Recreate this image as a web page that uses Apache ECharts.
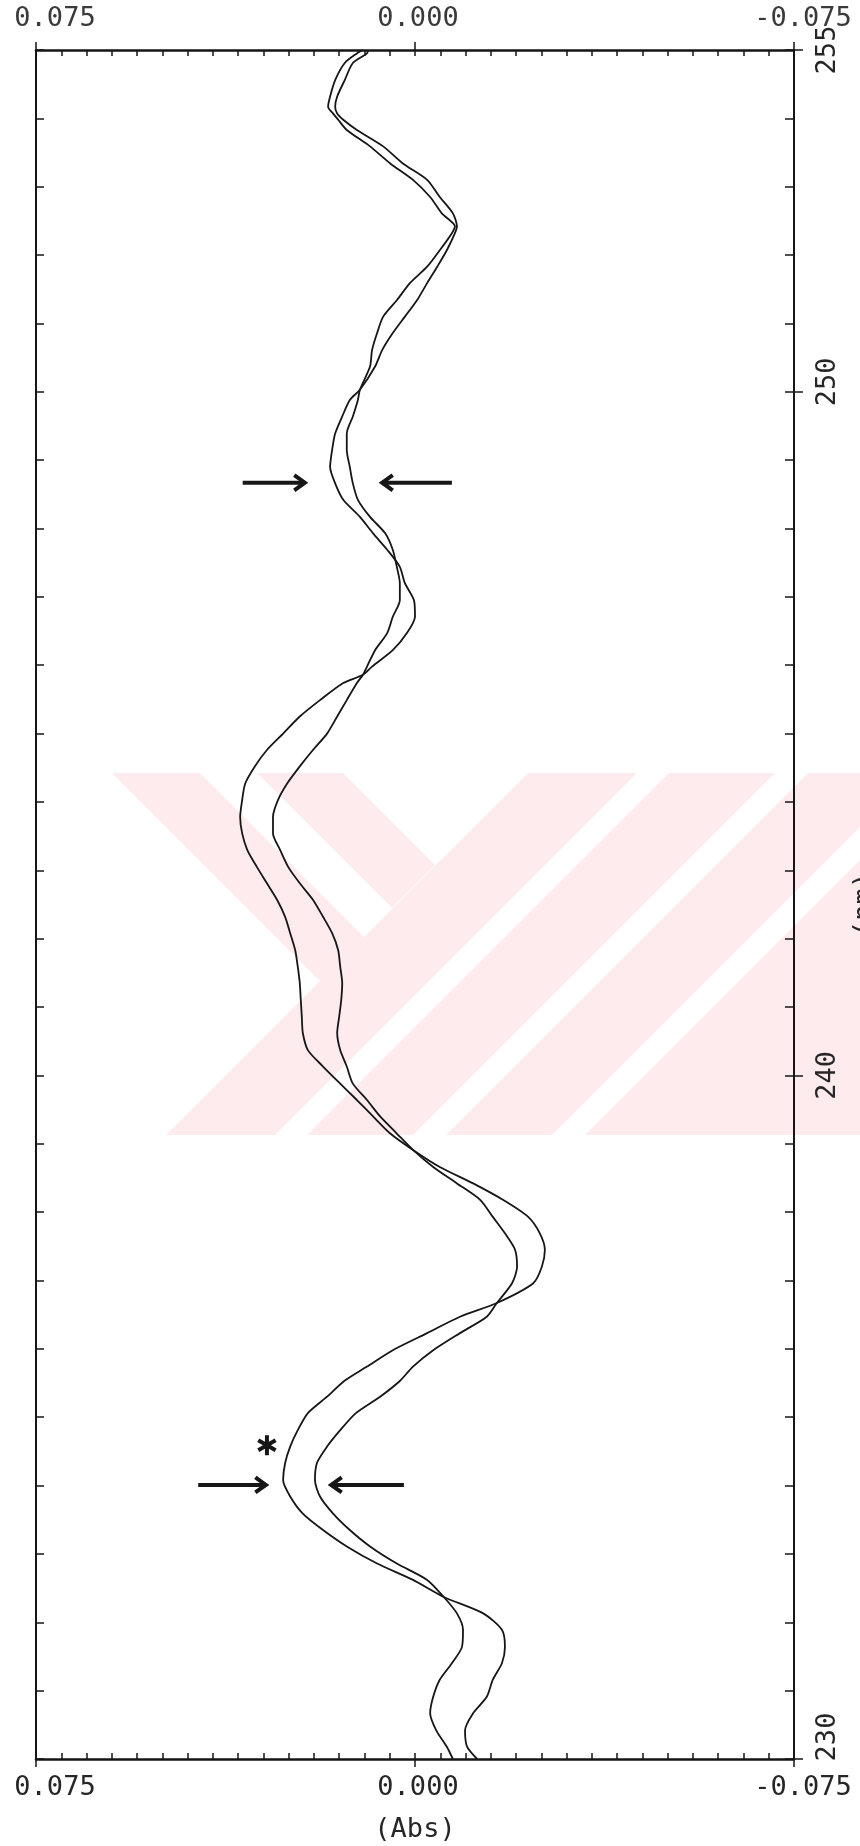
<!DOCTYPE html>
<html>
<head>
<meta charset="utf-8">
<script src="https://cdn.jsdelivr.net/npm/echarts@6/dist/echarts.min.js"></script>
<style>
html,body{margin:0;padding:0;background:#fff;}
#chart{width:860px;height:1846px;}
</style>
</head>
<body>
<div id="chart"></div>
<script>
// Wavelength (nm) of each read point
const wavelengths = [230.00,230.18,230.42,230.67,230.91,231.16,231.40,231.64,231.89,232.13,
232.37,232.62,232.86,233.11,233.35,233.59,233.84,234.08,234.33,234.57,
234.81,235.06,235.30,235.53,235.74,235.98,236.23,236.47,236.67,236.96,
237.20,237.45,237.69,237.93,238.18,238.42,238.66,238.91,239.15,239.40,
239.64,239.88,240.13,240.37,240.62,240.86,241.10,241.35,241.59,241.83,
242.08,242.32,242.57,242.81,243.05,243.30,243.54,243.78,244.03,244.27,
244.52,244.76,245.00,245.25,245.49,245.74,245.86,245.98,246.22,246.47,
246.71,246.95,247.20,247.44,247.69,247.93,248.17,248.42,248.66,248.90,
249.15,249.39,249.64,249.88,250.03,250.37,250.61,250.86,251.10,251.34,
251.59,251.83,252.07,252.32,252.42,252.61,252.85,253.10,253.34,253.59,
253.83,253.98,254.07,254.17,254.32,254.56,254.81,254.95,255.00];

// Spectrum A (Abs)
const absA = [-0.0123,-0.0103,-0.0099,-0.0115,-0.0142,-0.0154,-0.0172,-0.0178,-0.0172,-0.0135,
-0.0057,0.0004,0.0075,0.0135,0.0182,0.0222,0.0247,0.0261,0.0257,0.0247,
0.0232,0.0212,0.0174,0.0140,0.0095,0.0044,-0.0024,-0.0089,-0.0162,-0.0234,
-0.0251,-0.0257,-0.0247,-0.0224,-0.0174,-0.0115,-0.0049,0.0004,0.0049,0.0083,
0.0115,0.0148,0.0182,0.0212,0.0222,0.0224,0.0226,0.0228,0.0232,0.0237,
0.0247,0.0257,0.0273,0.0293,0.0313,0.0332,0.0342,0.0346,0.0342,0.0336,
0.0317,0.0293,0.0261,0.0228,0.0188,0.0142,0.0103,0.0085,0.0044,0.0016,
0.0000,0.0002,0.0020,0.0030,0.0055,0.0083,0.0109,0.0142,0.0158,0.0168,
0.0164,0.0158,0.0144,0.0129,0.0109,0.0079,0.0065,0.0044,0.0020,-0.0004,
-0.0024,-0.0044,-0.0063,-0.0079,-0.0083,-0.0075,-0.0049,-0.0024,0.0024,0.0063,
0.0115,0.0142,0.0154,0.0158,0.0154,0.0139,0.0123,0.0095,0.0093];

// Spectrum B (Abs)
const absB = [-0.0075,-0.0063,-0.0042,-0.0030,-0.0036,-0.0049,-0.0073,-0.0093,-0.0095,-0.0083,
-0.0057,-0.0024,0.0036,0.0089,0.0129,0.0162,0.0188,0.0198,0.0194,0.0174,
0.0148,0.0117,0.0069,0.0030,0.0004,-0.0036,-0.0089,-0.0142,-0.0162,-0.0192,
-0.0202,-0.0198,-0.0178,-0.0154,-0.0129,-0.0083,-0.0036,0.0004,0.0036,0.0069,
0.0095,0.0123,0.0135,0.0148,0.0154,0.0150,0.0146,0.0144,0.0148,0.0152,
0.0164,0.0182,0.0202,0.0228,0.0251,0.0267,0.0281,0.0281,0.0271,0.0253,
0.0228,0.0202,0.0174,0.0154,0.0135,0.0115,0.0103,0.0095,0.0079,0.0055,
0.0044,0.0030,0.0030,0.0036,0.0044,0.0059,0.0089,0.0113,0.0123,0.0129,
0.0135,0.0135,0.0123,0.0113,0.0109,0.0089,0.0085,0.0075,0.0063,0.0036,
0.0010,-0.0024,-0.0049,-0.0073,-0.0079,-0.0053,-0.0030,0.0004,0.0049,0.0089,
0.0135,0.0152,0.0162,0.0172,0.0168,0.0158,0.0139,0.0115,0.0103];

// Axis tick labels
const absTickLabels = [0.075, 0.000, -0.075];
const nmTickLabels = [230, 240, 250, 255];

// Annotation arrows: [absStart, nmStart, absEnd(tip), nmEnd]
const arrowRows = [
  [0.0341, 248.67, 0.0218, 248.67],
  [-0.0073, 248.67, 0.0065, 248.67],
  [0.0429, 234.01, 0.0295, 234.01],
  [0.0022, 234.01, 0.0166, 234.01]
];
// Asterisk marker: [abs, nm]
const asteriskRows = [[0.0293, 234.59]];

const FONT = 'DejaVu Sans Mono';
const INK = '#161616';
const TXT = '#262626';
const WM = '#fdebee';

const chart = echarts.init(document.getElementById('chart'), null, {renderer: 'canvas'});

const xBase = {min: -0.075, max: 0.075, inverse: true, type: 'value', splitLine: {show: false}};
const yBase = {min: 230, max: 255, type: 'value', splitLine: {show: false}};

function absLabel(v) {
  const s = Math.abs(v) < 1e-9 ? '0.000' : v.toFixed(3);
  if (v > 0.07) return '{l|' + s + '}';
  if (v < -0.07) return '{r|' + s + '}';
  return '{m|' + s + '}';
}
const absRich = {
  l: {padding: [0, 0, 0, 38]},
  r: {padding: [0, 0, 0, 18]},
  m: {padding: [0, 0, 0, 6]}
};
function nmLabel(v) {
  if (Math.abs(v - 230) < 0.01) return '{a|230}';
  if (Math.abs(v - 250) < 0.01) return '{b|250}';
  return '{c|' + Math.round(v) + '}';
}

const labelText = {fontFamily: FONT, fontSize: 27, color: TXT, lineHeight: 27};

function xLine(show) {
  return {show: show, onZero: false, lineStyle: {color: INK, width: 2.5}};
}
function yLine(show) {
  return {show: show, onZero: false, lineStyle: {color: INK, width: 2}};
}

// faint background watermark of the scanned page (decoration only)
function wmPoly(points) {
  return {type: 'polygon', z: -10, silent: true, shape: {points: points}, style: {fill: WM}};
}
const watermark = [
  wmPoly([[112, 773], [200, 773], [364, 937], [320, 981]]),
  wmPoly([[257, 773], [343, 773], [435, 865], [392, 908]]),
  wmPoly([[528, 773], [637, 773], [275, 1135], [166, 1135]]),
  wmPoly([[669, 773], [775, 773], [413, 1135], [307, 1135]]),
  wmPoly([[808, 773], [860, 773], [860, 827], [552, 1135], [446, 1135]]),
  wmPoly([[585, 1135], [860, 1135], [860, 860]])
];

const option = {
  backgroundColor: '#fff',
  animation: false,
  graphic: watermark,
  grid: {left: 36, right: 66, top: 50, bottom: 87, containLabel: false, outerBoundsMode: 'none'},
  xAxis: [
    Object.assign({}, xBase, {
      position: 'bottom', interval: 0.005,
      axisLine: xLine(true),
      axisTick: {show: true, inside: true, length: 6, lineStyle: {color: INK, width: 1.5}},
      axisLabel: {show: false}
    }),
    Object.assign({}, xBase, {
      position: 'bottom', interval: 0.075,
      axisLine: xLine(false),
      axisTick: {show: true, inside: false, length: 8, lineStyle: {color: INK, width: 1.5}},
      axisLabel: Object.assign({show: true, margin: 15, formatter: absLabel, rich: absRich,
        customValues: absTickLabels}, labelText),
      name: '(Abs)', nameLocation: 'middle', nameGap: 57,
      nameTextStyle: {fontFamily: FONT, fontSize: 27, color: TXT}
    }),
    Object.assign({}, xBase, {
      position: 'top', interval: 0.005,
      axisLine: xLine(true),
      axisTick: {show: true, inside: true, length: 6, lineStyle: {color: INK, width: 1.5}},
      axisLabel: {show: false}
    }),
    Object.assign({}, xBase, {
      position: 'top', interval: 0.075,
      axisLine: xLine(false),
      axisTick: {show: true, inside: false, length: 8, lineStyle: {color: INK, width: 1.5}},
      axisLabel: Object.assign({show: true, margin: 18, formatter: absLabel, rich: absRich,
        customValues: absTickLabels}, labelText, {color: '#3a3a3a'})
    })
  ],
  yAxis: [
    Object.assign({}, yBase, {
      position: 'left', interval: 1,
      axisLine: yLine(true),
      axisTick: {show: true, inside: true, length: 8, lineStyle: {color: INK, width: 1.5}},
      axisLabel: {show: false}
    }),
    Object.assign({}, yBase, {
      position: 'right', interval: 1,
      axisLine: yLine(true),
      axisTick: {show: true, inside: true, length: 9, lineStyle: {color: INK, width: 1.5}},
      axisLabel: {show: false}
    }),
    Object.assign({}, yBase, {
      position: 'right', interval: 5,
      axisLine: yLine(false),
      axisTick: {show: true, inside: false, length: 9, customValues: nmTickLabels,
        lineStyle: {color: INK, width: 1.5}},
      axisLabel: Object.assign({show: true, margin: 20, rotate: 90, formatter: nmLabel,
        customValues: nmTickLabels,
        rich: {a: {padding: [0, 0, 0, 44]}, b: {padding: [0, 0, 0, 20]}, c: {padding: 0}}}, labelText),
      name: '(nm)', nameLocation: 'middle', nameGap: 57, nameRotate: 90,
      nameTextStyle: {fontFamily: FONT, fontSize: 27, color: TXT}
    })
  ],
  series: [
    {
      name: 'Spectrum A', type: 'line', xAxisIndex: 0, yAxisIndex: 0,
      data: wavelengths.map((w, i) => [absA[i], w]),
      showSymbol: false, smooth: 0.25,
      lineStyle: {color: INK, width: 1.8}
    },
    {
      name: 'Spectrum B', type: 'line', xAxisIndex: 0, yAxisIndex: 0,
      data: wavelengths.map((w, i) => [absB[i], w]),
      showSymbol: false, smooth: 0.25,
      lineStyle: {color: INK, width: 1.8}
    },
    {
      name: 'arrows', type: 'custom', xAxisIndex: 0, yAxisIndex: 0,
      data: arrowRows, encode: {x: [0, 2], y: [1, 3]},
      renderItem: function (params, api) {
        const p1 = api.coord([api.value(0), api.value(1)]);
        const p2 = api.coord([api.value(2), api.value(3)]);
        const ang = Math.atan2(p2[1] - p1[1], p2[0] - p1[0]);
        const h = 13, a = 0.62;
        const h1 = [p2[0] - h * Math.cos(ang - a), p2[1] - h * Math.sin(ang - a)];
        const h2 = [p2[0] - h * Math.cos(ang + a), p2[1] - h * Math.sin(ang + a)];
        return {type: 'group', children: [
          {type: 'polyline', shape: {points: [p1, p2]}, style: {stroke: INK, lineWidth: 4, fill: null}},
          {type: 'polyline', shape: {points: [h1, p2, h2]}, style: {stroke: INK, lineWidth: 4, fill: null, lineJoin: 'miter'}}
        ]};
      }
    },
    {
      name: 'asterisk', type: 'custom', xAxisIndex: 0, yAxisIndex: 0,
      data: asteriskRows, encode: {x: 0, y: 1},
      renderItem: function (params, api) {
        const c = api.coord([api.value(0), api.value(1)]);
        const r = 10;
        const kids = [90, 30, 150].map(function (deg) {
          const t = deg * Math.PI / 180;
          return {type: 'line', shape: {x1: c[0] - r * Math.cos(t), y1: c[1] - r * Math.sin(t),
            x2: c[0] + r * Math.cos(t), y2: c[1] + r * Math.sin(t)},
            style: {stroke: INK, lineWidth: 4}};
        });
        return {type: 'group', children: kids};
      }
    }
  ]
};
chart.setOption(option);
</script>
</body>
</html>
